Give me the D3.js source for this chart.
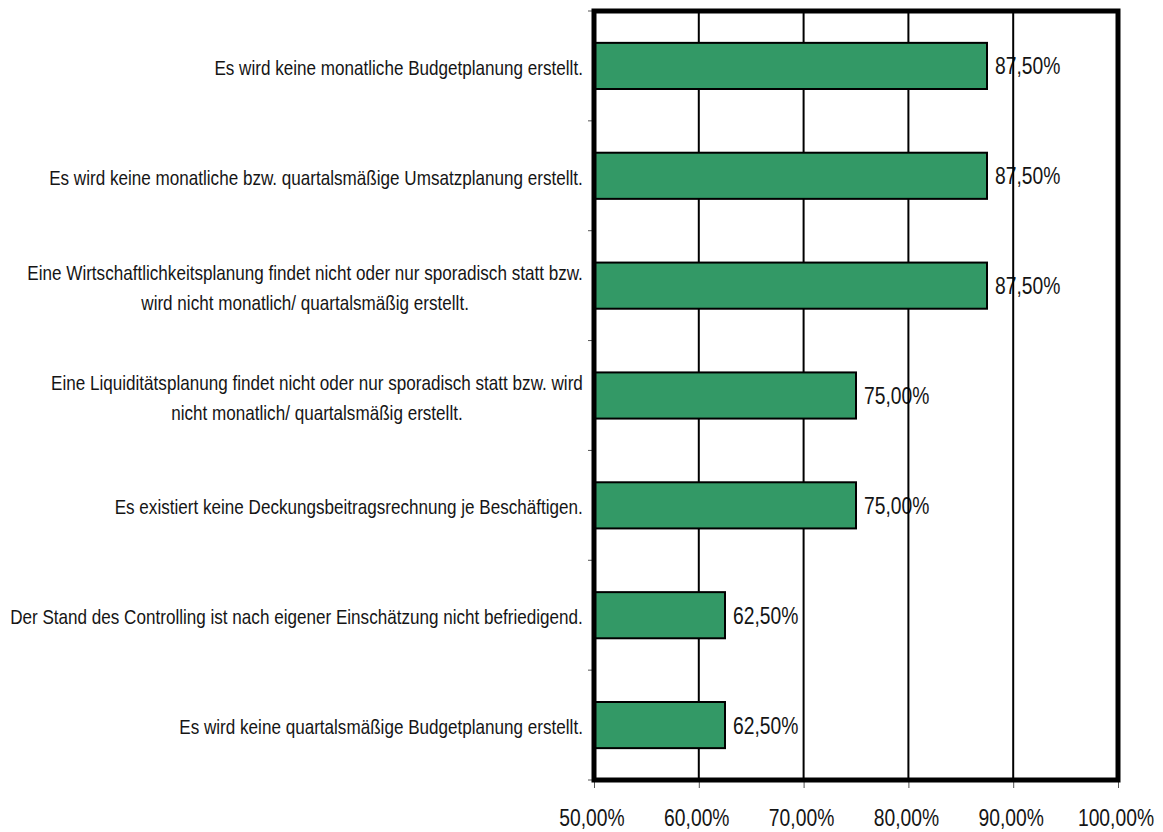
<!DOCTYPE html>
<html><head><meta charset="utf-8">
<script src="https://cdn.jsdelivr.net/npm/d3@7"></script>
<style>body{margin:0;background:#fff}svg{display:block}text{font-family:"Liberation Sans",Arial,sans-serif;fill:#151515}</style>
</head><body><svg id="c" width="1163" height="832"></svg>
<script>
const categories = [
  ["Es wird keine monatliche Budgetplanung erstellt."],
  ["Es wird keine monatliche bzw. quartalsmäßige Umsatzplanung erstellt."],
  ["Eine Wirtschaftlichkeitsplanung findet nicht oder nur sporadisch statt bzw.", "wird nicht monatlich/ quartalsmäßig erstellt."],
  ["Eine Liquiditätsplanung findet nicht oder nur sporadisch statt bzw. wird", "nicht monatlich/ quartalsmäßig erstellt."],
  ["Es existiert keine Deckungsbeitragsrechnung je Beschäftigen."],
  ["Der Stand des Controlling ist nach eigener Einschätzung nicht befriedigend."],
  ["Es wird keine quartalsmäßige Budgetplanung erstellt."]
];
const values = [0.875, 0.875, 0.875, 0.75, 0.75, 0.625, 0.625];
const xTicks = [0.5, 0.6, 0.7, 0.8, 0.9, 1.0];

const fmt = v => (v*100).toFixed(2).replace(".", ",") + "%";
const svg = d3.select("#c");
const L = 594, R = 1118, T = 11, B = 780;
const x = d3.scaleLinear().domain([0.5, 1.0]).range([L, R]);
const y = d3.scaleBand().domain(d3.range(categories.length)).range([T, B]).paddingInner(0.58).paddingOuter(0.29);
const yb = d3.scaleBand().domain(d3.range(categories.length)).range([T, B]);

const CAT_FS = 20, LABEL_RIGHT = 583, LABEL_LEFT = 10;
const VAL_FS = 23, VAL_SX = 0.84;

function txt(parent, s, tx, ty, fs, sx, anchor) {
  return parent.append("text")
    .attr("transform", `translate(${tx},${ty}) scale(${sx},1)`)
    .attr("text-anchor", anchor).style("font-size", fs + "px").text(s);
}

// value labels (under gridlines)
const vg = svg.append("g");
values.forEach((d, i) => txt(vg, fmt(d), x(d) + 8, y(i) + y.bandwidth()/2 + 8.5, VAL_FS, VAL_SX, "start"));

// gridlines
svg.append("g").selectAll("line").data(xTicks.slice(1, -1)).join("line")
  .attr("x1", d => x(d)).attr("x2", d => x(d)).attr("y1", T).attr("y2", B)
  .attr("stroke", "#000").attr("stroke-width", 2);

// bars
svg.append("g").selectAll("rect").data(values).join("rect")
  .attr("x", x(0.5)).attr("y", (d,i) => y(i))
  .attr("width", d => x(d) - x(0.5)).attr("height", y.bandwidth())
  .attr("fill", "#339966").attr("stroke", "#000").attr("stroke-width", 2);

// x axis
const xa = svg.append("g").attr("transform", `translate(0,${B})`)
  .call(d3.axisBottom(x).tickValues(xTicks).tickFormat("").tickSize(8));
xa.select(".domain").remove();
xa.selectAll("line").attr("stroke", "#555").attr("stroke-width", 1);
const tg = svg.append("g");
xTicks.forEach(t => txt(tg, fmt(t), x(t) - 2, 826, VAL_FS, VAL_SX, "middle"));

// y ticks at band boundaries
const bounds = d3.range(categories.length + 1).map(i => i === categories.length ? B : yb(i));
svg.append("g").selectAll("line").data(bounds).join("line")
  .attr("x1", L - 6).attr("x2", L).attr("y1", d => d).attr("y2", d => d)
  .attr("stroke", "#555").attr("stroke-width", 1);

// frame
svg.append("rect").attr("x", L).attr("y", T).attr("width", R - L).attr("height", B - T)
  .attr("fill", "none").attr("stroke", "#000").attr("stroke-width", 5);

// category labels: one common condensing factor so the longest line fits the label area
const lh = 30;
const cg = svg.append("g");
const items = [];
categories.forEach((lines, i) => {
  const cy = yb(i) + yb.bandwidth()/2 + 2;
  const ts = lines.map((s, j) => txt(cg, s, 0, 0, CAT_FS, 1, "middle"));
  const w = Math.max(...ts.map(t => t.node().getComputedTextLength()));
  items.push({ts, w, cy, n: lines.length});
});
const maxW = d3.max(items, d => d.w);
const sx = Math.min(0.95, (LABEL_RIGHT - LABEL_LEFT) / maxW);
items.forEach(({ts, w, cy, n}) => {
  ts.forEach((t, j) => t.attr("transform",
    `translate(${LABEL_RIGHT - w*sx/2},${cy + (j - (n-1)/2) * lh + 7}) scale(${sx},1)`));
});
</script></body></html>
